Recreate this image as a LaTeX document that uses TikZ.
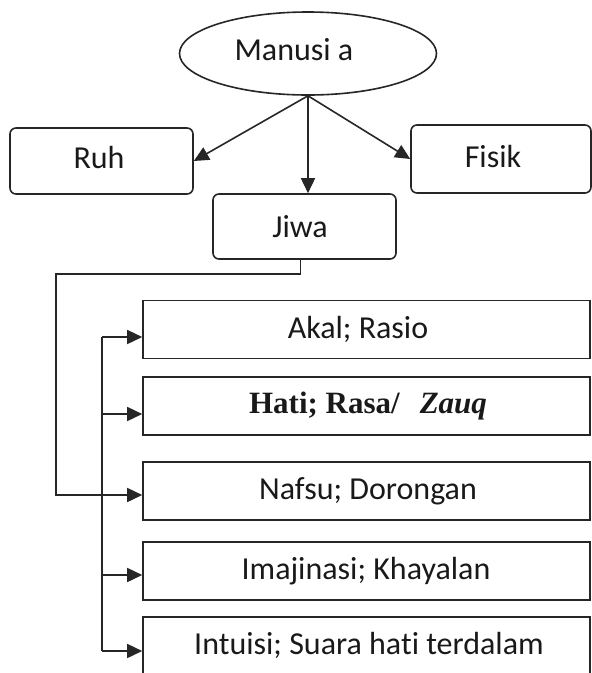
\documentclass[tikz,border=0pt]{standalone}
\usepackage{fontspec}
\setmainfont{Carlito}[Ligatures={NoCommon}]
\newfontfamily\timesfont{Liberation Serif}
\usetikzlibrary{arrows.meta,shapes.geometric}
\begin{document}
\begin{tikzpicture}[x=1pt,y=-1pt,
  ln/.style={line width=1.6pt,draw=black!85},
  arr/.style={ln,-{Triangle[length=15pt,width=14pt]}},
  rbox/.style={ln,rounded corners=6pt,inner sep=0pt},
  lbox/.style={ln,inner sep=0pt,minimum width=447pt,minimum height=58pt},
  txt/.style={inner sep=0pt,font=\fontsize{32}{36}\selectfont,text=black!90}]
\clip (0,0) rectangle (592,673);
\node[ellipse,ln,minimum width=257pt,minimum height=83pt,inner sep=0pt] (m) at (308,53.5) {};
\node[txt] (mt) at (294,50) {Manusi a};
\node[rbox,minimum width=183pt,minimum height=66pt] (ruh) at (101.5,161) {};
\node[txt] (ruht) at (99,158) {Ruh};
\node[rbox,minimum width=180pt,minimum height=68pt] (fisik) at (501,159) {};
\node[txt] (fisikt) at (493,157) {Fisik};
\node[rbox,minimum width=183pt,minimum height=65pt] (jiwa) at (304.5,226.5) {};
\node[txt] (jiwat) at (300,227) {Jiwa};
\node[lbox] (akal) at (366.5,329.5) {};
\node[txt] (akalt) at (358,329) {Akal; Rasio};
\node[lbox] (hati) at (366.5,406) {};
\node[txt,font=\timesfont\bfseries\fontsize{31}{34}\selectfont] (hatit) at (368,406) {Hati; Rasa/\hspace{20pt}\textit{Zauq}};
\node[lbox] (nafsu) at (366.5,491) {};
\node[txt] (nafsut) at (368,491) {Nafsu; Dorongan};
\node[lbox] (ima) at (366.5,571) {};
\node[txt] (imat) at (366,571) {Imajinasi; Khayalan};
\node[lbox,minimum height=70pt] (intu) at (366.5,652) {};
\node[txt] (intut) at (369,645) {Intuisi; Suara hati terdalam};
\coordinate (c1) at (56,274);
\coordinate (c2) at (102,337);
\coordinate (c3) at (102,651);
\draw[arr] (m.south) -- (ruh.east);
\draw[arr] (m.south) -- (fisik.west);
\draw[arr] (m.south) -- (m.south |- jiwa.north);
\draw[arr] ([xshift=-4pt]jiwa.south) |- (c1) |- ([yshift=-4pt]nafsu.west);
\draw[ln] (c2) -- (c3);
\draw[arr] (c2) -- (c2 -| akal.west);
\draw[arr] ([yshift=-8pt]hati.west -| c2) -- ([yshift=-8pt]hati.west);
\draw[arr] ([yshift=-4pt]ima.west -| c2) -- ([yshift=-4pt]ima.west);
\draw[arr] (c3) -- (c3 -| intu.west);
\end{tikzpicture}
\end{document}
